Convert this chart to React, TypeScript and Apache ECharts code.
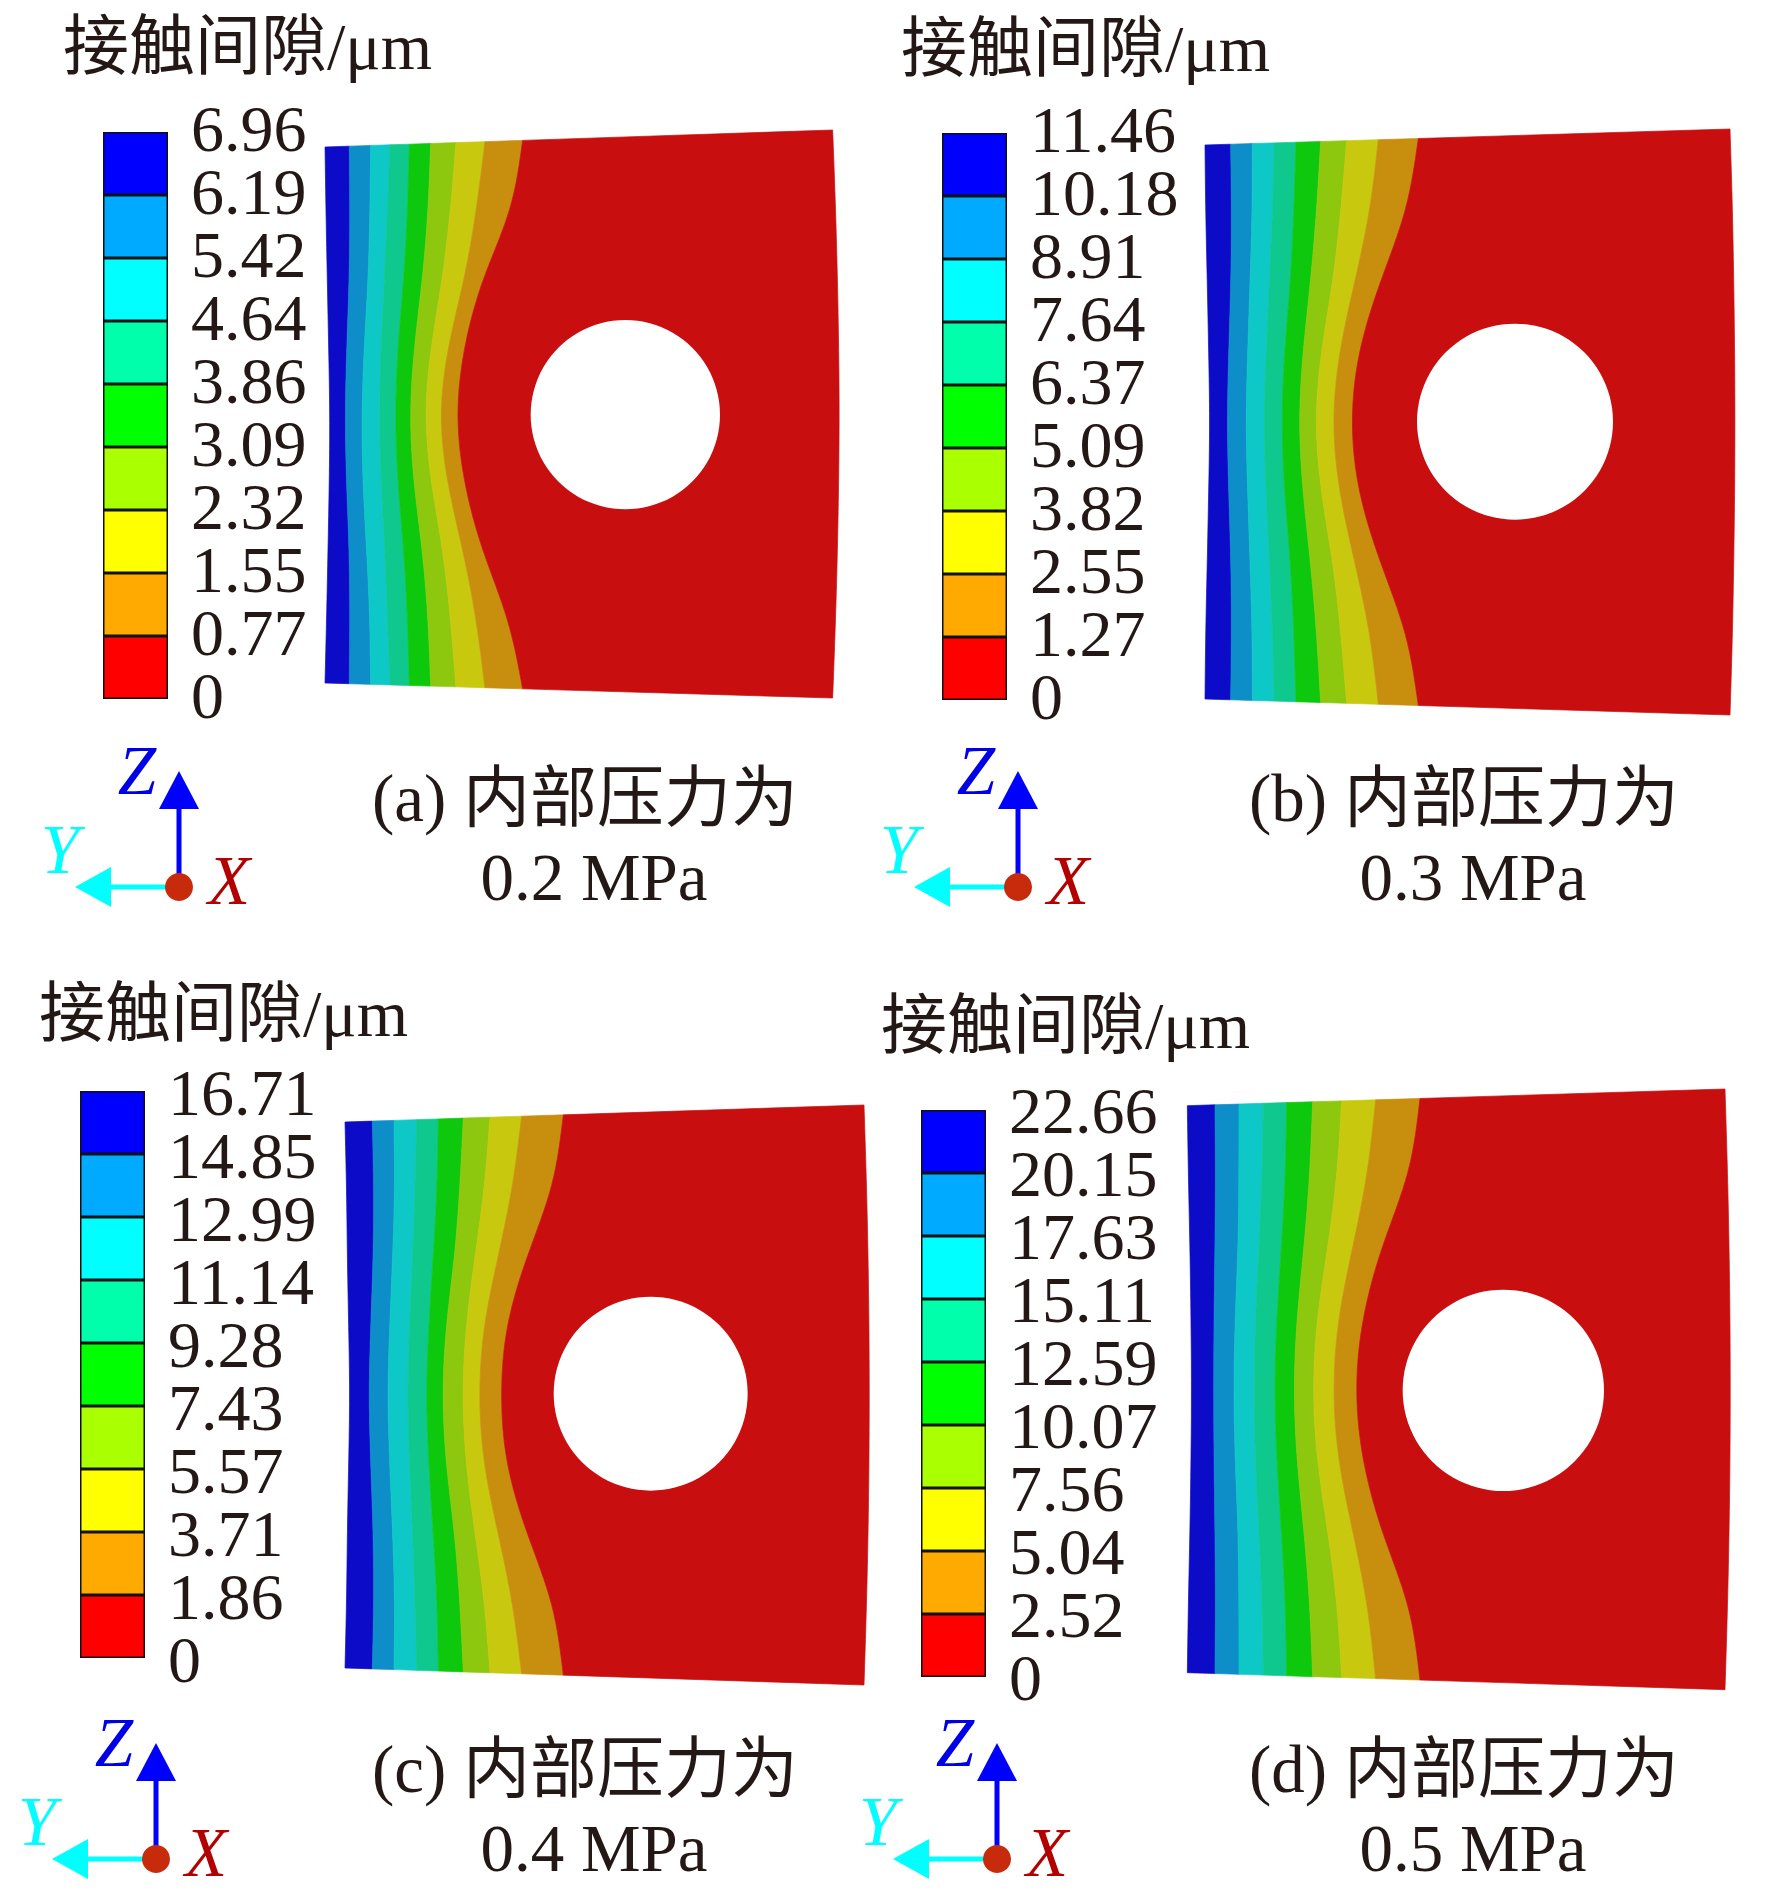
import React, { useEffect, useRef } from "react";
import * as echarts from "echarts";

// ---- Data ----
const legendColors = ["#0000ff", "#00aaff", "#00ffff", "#00ffaa", "#00ff00", "#aaff00", "#ffff00", "#ffaa00", "#ff0000"];
const bandColors = ["#0b0bc8", "#0e8ec8", "#0ec8c8", "#0ec88e", "#0ec80e", "#8ec80e", "#c8c80e", "#c88e0e", "#c80e0e"];

const ticksA = ["6.96", "6.19", "5.42", "4.64", "3.86", "3.09", "2.32", "1.55", "0.77", "0"];
const ticksB = ["11.46", "10.18", "8.91", "7.64", "6.37", "5.09", "3.82", "2.55", "1.27", "0"];
const ticksC = ["16.71", "14.85", "12.99", "11.14", "9.28", "7.43", "5.57", "3.71", "1.86", "0"];
const ticksD = ["22.66", "20.15", "17.63", "15.11", "12.59", "10.07", "7.56", "5.04", "2.52", "0"];

// Contour boundaries across the plate: one row of positions per boundary, nine stations from top to bottom.
const contoursA = [
  [75, 78, 82, 86, 90, 88, 84, 80, 75],
  [148, 150, 148, 140, 135, 139, 148, 150, 148],
  [212, 210, 205, 192, 185, 188, 200, 210, 212],
  [270, 262, 253, 243, 237, 243, 255, 262, 270],
  [328, 323, 312, 293, 285, 293, 312, 323, 328],
  [392, 385, 368, 342, 328, 340, 368, 385, 392],
  [468, 452, 428, 392, 372, 392, 430, 452, 468],
  [555, 530, 495, 442, 416, 440, 490, 530, 555],
  [668, 640, 545, 490, 466, 490, 545, 630, 668],
  [1598, 1606, 1612, 1616, 1618, 1616, 1612, 1606, 1598],
];
const contoursB = [
  [75, 77, 82, 86, 90, 86, 82, 77, 75],
  [152, 155, 153, 146, 141, 146, 153, 155, 152],
  [217, 217, 210, 203, 197, 203, 210, 217, 217],
  [282, 278, 268, 258, 251, 258, 268, 278, 282],
  [348, 342, 332, 313, 304, 313, 332, 342, 348],
  [422, 410, 392, 368, 355, 368, 392, 410, 422],
  [500, 483, 460, 422, 403, 422, 460, 483, 500],
  [595, 572, 525, 476, 455, 476, 525, 572, 595],
  [715, 685, 600, 532, 510, 532, 600, 685, 715],
  [1650, 1657, 1661, 1664, 1665, 1664, 1661, 1657, 1650],
];
const contoursC = [
  [45, 50, 52, 56, 60, 56, 52, 50, 45],
  [127, 132, 130, 122, 116, 122, 130, 132, 127],
  [192, 195, 188, 179, 172, 179, 188, 195, 192],
  [260, 255, 248, 238, 232, 238, 248, 255, 260],
  [325, 322, 310, 296, 288, 296, 310, 322, 325],
  [400, 390, 375, 347, 336, 347, 375, 390, 400],
  [480, 465, 435, 407, 396, 407, 435, 465, 480],
  [575, 550, 505, 459, 445, 459, 505, 550, 575],
  [700, 675, 590, 525, 510, 525, 590, 675, 700],
  [1602, 1609, 1614, 1617, 1618, 1617, 1614, 1609, 1602],
];
const contoursD = [
  [67, 70, 75, 78, 80, 78, 75, 70, 67],
  [150, 152, 150, 147, 146, 147, 150, 152, 150],
  [222, 222, 220, 210, 206, 210, 220, 222, 222],
  [295, 292, 282, 271, 266, 271, 282, 292, 295],
  [365, 362, 350, 335, 328, 335, 350, 362, 365],
  [443, 435, 418, 395, 385, 395, 418, 435, 443],
  [530, 518, 490, 455, 442, 455, 490, 518, 530],
  [632, 610, 565, 518, 502, 518, 565, 610, 632],
  [765, 740, 650, 590, 568, 590, 650, 740, 765],
  [1680, 1687, 1692, 1695, 1696, 1695, 1692, 1687, 1680],
];
// Plate edges: [top at left, top at right, bottom at left, bottom at right]; x span of the edges comes from the contours.
const edgesA = [111, 60, 1719, 1764];
const edgesB = [60, 12, 1722, 1770];
const edgesC = [96, 45, 1734, 1785];
const edgesD = [62, 12, 1763, 1814];
// Hole: [x, y, r]
const holeA = [976, 914, 284];
const holeB = [1005, 890, 294];
const holeC = [962, 911, 291];
const holeD = [1015, 916, 302];

const captionsTop = ["(a) 内部压力为", "(b) 内部压力为", "(c) 内部压力为", "(d) 内部压力为"];
const captionsBottom = ["0.2 MPa", "0.3 MPa", "0.4 MPa", "0.5 MPa"];
const titleText = "接触间隙/μm";

// ---- Layout (pixels) ----
const SERIF = '"Liberation Serif", "Noto Sans CJK SC", serif';
const TEXT = "#231815";
const panels = [
  { ticks: ticksA, contours: contoursA, edges: edgesA, hole: holeA, bar: [103, 132, 65, 567], plate: [300, 110], title: [63, 46], cap: [585, 798, 594, 877], triad: [179, 887], tickShift: -4 },
  { ticks: ticksB, contours: contoursB, edges: edgesB, hole: holeB, bar: [942, 133, 65, 567], plate: [1180, 125], title: [901, 48], cap: [1464, 798, 1473, 877], triad: [1018, 887], tickShift: -4 },
  { ticks: ticksC, contours: contoursC, edges: edgesC, hole: holeC, bar: [80, 1091, 65, 567], plate: [330, 1090], title: [39, 1013], cap: [585, 1769, 594, 1848], triad: [156, 1859], tickShift: 1 },
  { ticks: ticksD, contours: contoursD, edges: edgesD, hole: holeD, bar: [921, 1110, 65, 567], plate: [1165, 1085], title: [881, 1025], cap: [1464, 1769, 1473, 1848], triad: [997, 1859], tickShift: 0 },
];

// Smooth rendering of a boundary through its stations (uniform cubic B-spline, end stations kept).
function spline(row: number[], i: number, f: number) {
  const at = (k: number) => {
    if (k < 0) return 2 * row[0] - row[-k];
    if (k >= row.length) return 2 * row[row.length - 1] - row[2 * (row.length - 1) - k];
    return row[k];
  };
  const p0 = at(i - 1), p1 = at(i), p2 = at(i + 1), p3 = at(i + 2);
  const f2 = f * f, f3 = f2 * f;
  return (((1 - f) ** 3) * p0 + (3 * f3 - 6 * f2 + 4) * p1 + (-3 * f3 + 3 * f2 + 3 * f + 1) * p2 + f3 * p3) / 6;
}

function place(x: number, t: number, e: number[], xL: number, xR: number) {
  const u = (x - xL) / (xR - xL);
  const top = e[0] + (e[1] - e[0]) * u;
  const bot = e[2] + (e[3] - e[2]) * u;
  return [x, top + (bot - top) * t];
}

function traceBoundary(row: number[], edges: number[], xL: number, xR: number) {
  const pts: number[][] = [];
  const n = row.length - 1;
  for (let i = 0; i < n; i++) {
    for (let k = 0; k < 8; k++) {
      pts.push(place(spline(row, i, k / 8), (i + k / 8) / n, edges, xL, xR));
    }
  }
  pts.push(place(row[n], 1, edges, xL, xR));
  return pts;
}

function buildOption() {
  const grid: any[] = [];
  const xAxis: any[] = [];
  const yAxis: any[] = [];
  const series: any[] = [];
  const graphic: any[] = [];

  panels.forEach((p, idx) => {
    // Colour bar
    const barGrid = grid.length;
    grid.push({ left: p.bar[0], top: p.bar[1], width: p.bar[2], height: p.bar[3], containLabel: false });
    xAxis.push({ gridIndex: barGrid, type: "category", data: ["gap"], show: false });
    yAxis.push({ gridIndex: barGrid, type: "value", min: 0, max: 9, interval: 1, show: false });
    [...legendColors].reverse().forEach((c) => {
      series.push({
        type: "bar",
        xAxisIndex: barGrid,
        yAxisIndex: barGrid,
        stack: "legend" + idx,
        data: [1],
        barWidth: "100%",
        clip: false,
        itemStyle: { color: c, borderColor: "#111", borderWidth: 1.5 },
      });
    });

    // Tick labels of the colour bar: a category axis whose labels are all forced on
    const tickGrid = grid.length;
    grid.push({ left: p.bar[0], top: p.bar[1] + p.tickShift, width: p.bar[2], height: p.bar[3], containLabel: false });
    xAxis.push({ gridIndex: tickGrid, type: "category", data: ["gap"], show: false });
    yAxis.push({
      gridIndex: tickGrid,
      type: "category",
      position: "right",
      boundaryGap: false,
      data: [...p.ticks].reverse(),
      splitLine: { show: false },
      axisLine: { show: false },
      axisTick: { show: false },
      axisLabel: {
        interval: 0,
        margin: 23,
        fontSize: 66,
        lineHeight: 44,
        fontFamily: SERIF,
        color: TEXT,
      },
    });

    // Contour plate
    const plateGrid = grid.length;
    grid.push({ left: p.plate[0], top: p.plate[1], width: 590, height: 700 });
    xAxis.push({ gridIndex: plateGrid, type: "value", min: 0, max: 1770, show: false });
    yAxis.push({ gridIndex: plateGrid, type: "value", min: 0, max: 2100, inverse: true, show: false });

    const xL = p.contours[0][0];
    const xR = p.contours[p.contours.length - 1][0];
    const traces = p.contours.map((row) => traceBoundary(row, p.edges, xL, xR));
    series.push({
      type: "custom",
      coordinateSystem: "cartesian2d",
      xAxisIndex: plateGrid,
      yAxisIndex: plateGrid,
      clip: false,
      silent: true,
      data: bandColors.map((_, i) => [i]),
      renderItem: (params: any, api: any) => {
        const i = params.dataIndex;
        const pts = [...traces[i], ...[...traces[i + 1]].reverse()].map((q) => api.coord(q));
        return {
          type: "polygon",
          shape: { points: pts },
          style: { fill: bandColors[i], stroke: bandColors[i], lineWidth: 0.7 },
        };
      },
    });
    series.push({
      type: "custom",
      coordinateSystem: "cartesian2d",
      xAxisIndex: plateGrid,
      yAxisIndex: plateGrid,
      clip: false,
      silent: true,
      z: 3,
      data: [p.hole],
      renderItem: (_: any, api: any) => {
        const c = api.coord([api.value(0), api.value(1)]);
        const r = api.size([api.value(2), 0])[0];
        return { type: "circle", shape: { cx: c[0], cy: c[1], r }, style: { fill: "#ffffff" } };
      },
    });

    // Title and captions
    graphic.push({
      type: "text",
      x: p.title[0],
      y: p.title[1],
      style: { text: titleText, font: `66px ${SERIF}`, fill: TEXT, align: "left", verticalAlign: "middle" },
    });
    graphic.push({
      type: "text",
      x: p.cap[0],
      y: p.cap[1],
      style: { text: captionsTop[idx], font: `67px ${SERIF}`, fill: TEXT, align: "center", verticalAlign: "middle" },
    });
    graphic.push({
      type: "text",
      x: p.cap[2],
      y: p.cap[3],
      style: { text: captionsBottom[idx], font: `67px ${SERIF}`, fill: TEXT, align: "center", verticalAlign: "middle" },
    });

    // Coordinate triad
    const [ox, oy] = p.triad;
    graphic.push({ type: "line", shape: { x1: ox, y1: oy, x2: ox, y2: oy - 80 }, style: { stroke: "#0000ff", lineWidth: 5 } });
    graphic.push({ type: "polygon", shape: { points: [[ox, oy - 116], [ox - 20, oy - 78], [ox + 20, oy - 78]] }, style: { fill: "#0000ff" } });
    graphic.push({ type: "line", shape: { x1: ox, y1: oy, x2: ox - 68, y2: oy }, style: { stroke: "#00ffff", lineWidth: 5 } });
    graphic.push({ type: "polygon", shape: { points: [[ox - 104, oy], [ox - 68, oy - 20], [ox - 68, oy + 20]] }, style: { fill: "#00ffff" } });
    graphic.push({ type: "circle", shape: { cx: ox, cy: oy, r: 14 }, style: { fill: "#c82a0c" } });
    graphic.push({ type: "text", x: ox - 42, y: oy - 116, style: { text: "Z", font: `italic 69px ${SERIF}`, fill: "#0000e6", align: "center", verticalAlign: "middle" } });
    graphic.push({ type: "text", x: ox - 119, y: oy - 37, style: { text: "Y", font: `italic 69px ${SERIF}`, fill: "#00ffff", align: "center", verticalAlign: "middle" } });
    graphic.push({ type: "text", x: ox + 50, y: oy - 6, style: { text: "X", font: `italic 69px ${SERIF}`, fill: "#b30000", align: "center", verticalAlign: "middle" } });
  });

  return { animation: false, backgroundColor: "#ffffff", grid, xAxis, yAxis, series, graphic };
}

export default function App() {
  const ref = useRef<HTMLDivElement>(null);
  useEffect(() => {
    const chart = echarts.init(ref.current!, undefined, { renderer: "svg" });
    chart.setOption(buildOption() as any);
    return () => chart.dispose();
  }, []);
  return <div ref={ref} style={{ position: "absolute", left: 0, top: 0, width: 1772, height: 1902 }} />;
}
